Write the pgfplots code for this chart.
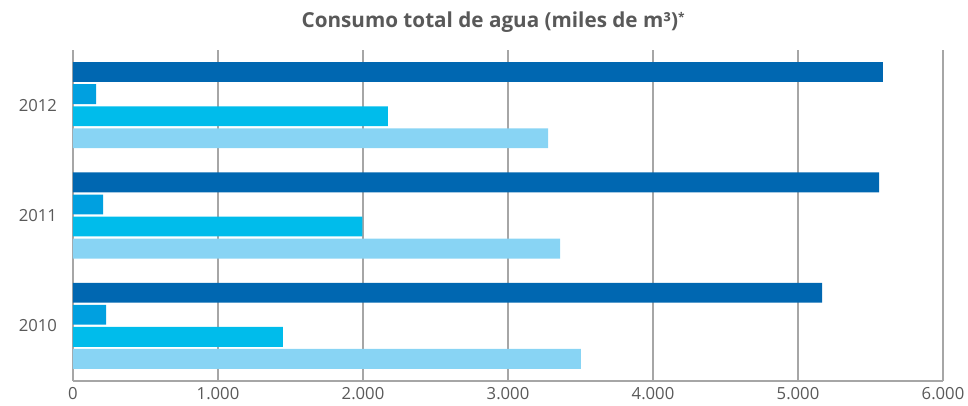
\documentclass[border=0pt]{standalone}
\usepackage{fontspec}
\setmainfont{Open Sans}
\usepackage{pgfplots}
\pgfplotsset{compat=1.18}

\definecolor{serA}{HTML}{0067B1}
\definecolor{serB}{HTML}{00A0E0}
\definecolor{serC}{HTML}{00BCEB}
\definecolor{serD}{HTML}{88D4F4}
\definecolor{gridgray}{HTML}{A6A6A6}
\definecolor{txtgray}{HTML}{595959}

\begin{document}
\begin{tikzpicture}[x=1pt,y=1pt]
\useasboundingbox (-54.75,-18.75) rectangle (671.25,285.75);
\begin{axis}[
    at={(0,0)}, anchor=south west,
    scale only axis,
    width=652.5pt, height=248.25pt,
    xbar, bar width=0.18,
    xmin=0, xmax=6000, ymin=-0.5, ymax=2.5,
    xtick={0,1000,...,6000},
    ytick={0,1,2}, yticklabels={2010,2011,2012},
    scaled x ticks=false,
    xticklabel style={/pgf/number format/1000 sep={.}, yshift=-1.5pt},
    yticklabel style={xshift=-8.5pt},
    /pgf/number format/assume math mode=true,
    major tick length=0pt,
    xmajorgrids,
    grid style={draw=gridgray, line width=0.9pt},
    axis x line=bottom, axis y line=left,
    axis line style={-, draw=gridgray, line width=0.9pt},
    tick label style={font=\fontsize{12.5}{14}\selectfont, text=txtgray},
    clip=false,
]
\addplot[fill=serA, draw=none, bar shift=0.3] coordinates {(5166,0) (5559,1) (5586,2)};
\addplot[fill=serB, draw=none, bar shift=0.1] coordinates {(228,0) (207,1) (160,2)};
\addplot[fill=serC, draw=none, bar shift=-0.1] coordinates {(1448,0) (1995,1) (2172,2)};
\addplot[fill=serD, draw=none, bar shift=-0.3] coordinates {(3503,0) (3359,1) (3276,2)};
\node[font=\bfseries\fontsize{15.5}{18}\selectfont, text=txtgray]
    at (rel axis cs:0.483,1.0846) {Consumo total de agua (miles de m³)\raisebox{0.55ex}{\fontsize{9}{10}\selectfont*}};
\end{axis}
\end{tikzpicture}
\end{document}
